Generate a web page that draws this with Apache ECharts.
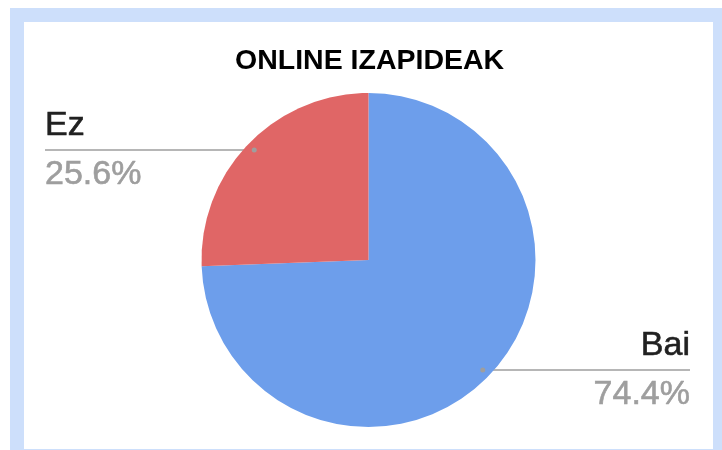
<!DOCTYPE html>
<html>
<head>
<meta charset="utf-8">
<script src="https://cdn.jsdelivr.net/npm/echarts@6/dist/echarts.min.js"></script>
<style>
  html, body { margin: 0; padding: 0; width: 722px; height: 450px; background: #ffffff; overflow: hidden; }
  #frame { position: absolute; left: 10px; top: 8px; width: 712px; height: 442px; background: #cddffb; }
  #inner { position: absolute; left: 24px; top: 22px; width: 689px; height: 427px; background: #ffffff; }
  #chart { position: absolute; left: 0; top: 0; width: 722px; height: 450px; }
</style>
</head>
<body>
<div id="frame"></div>
<div id="inner"></div>
<div id="chart"></div>
<script>
const titleText = 'ONLINE IZAPIDEAK';
const categories = ['Bai', 'Ez'];
const values = [74.4, 25.6];
const colors = ['#6d9eeb', '#e06666'];

const FONT = '"Liberation Sans", Arial, sans-serif';
const CX = 368.5, CY = 260, R = 167;
const LEFT_X = 45, RIGHT_X = 690;

const chart = echarts.init(document.getElementById('chart'), null, { renderer: 'canvas' });

function anchorFor(idx) {
  let lay = null;
  try {
    lay = chart.getModel().getSeriesByIndex(0).getData().getItemLayout(idx);
  } catch (e) { lay = null; }
  if (lay && lay.startAngle != null) {
    const mid = (lay.startAngle + lay.endAngle) / 2;
    return [lay.cx + 0.95 * lay.r * Math.cos(mid), lay.cy + 0.95 * lay.r * Math.sin(mid)];
  }
  const total = values.reduce((a, b) => a + b, 0);
  let acc = 0;
  for (let i = 0; i < idx; i++) acc += values[i];
  const midFrac = (acc + values[idx] / 2) / total;
  const ang = -Math.PI / 2 + midFrac * 2 * Math.PI;
  return [CX + 0.95 * R * Math.cos(ang), CY + 0.95 * R * Math.sin(ang)];
}

const data = categories.map((c, i) => ({ name: c, value: values[i], itemStyle: { color: colors[i] } }));

chart.setOption({
  animation: false,
  title: {
    text: titleText,
    left: 235,
    top: 47,
    padding: 0,
    textStyle: { fontFamily: FONT, fontSize: 28.5, lineHeight: 28, fontWeight: 'bold', color: '#000000' }
  },
  series: [{
    type: 'pie',
    center: [CX, CY],
    radius: R,
    startAngle: 90,
    clockwise: true,
    data: data,
    itemStyle: { borderWidth: 0 },
    emphasis: { disabled: true },
    label: {
      show: true,
      position: 'outside',
      formatter: p => '{n|' + p.name + '}\n{p|' + p.value.toFixed(1) + '%}',
      rich: {
        n: { fontFamily: FONT, fontSize: 34, color: '#212121', lineHeight: 49, textBorderColor: '#212121', textBorderWidth: 0.6 },
        p: { fontFamily: FONT, fontSize: 34, color: '#9e9e9e', lineHeight: 49, textBorderColor: '#9e9e9e', textBorderWidth: 0.6 }
      }
    },
    labelLine: { show: true, smooth: false, lineStyle: { color: '#9e9e9e', width: 1.5 } },
    labelLayout: function (params) {
      const a = anchorFor(params.dataIndex);
      const isLeft = a[0] < CX;
      const endX = isLeft ? LEFT_X : RIGHT_X;
      return {
        x: endX,
        y: a[1],
        align: isLeft ? 'left' : 'right',
        verticalAlign: 'middle',
        labelLinePoints: [[a[0], a[1]], [a[0], a[1]], [endX, a[1]]]
      };
    }
  }]
});

const dots = categories.map((c, i) => {
  const a = anchorFor(i);
  return { type: 'circle', shape: { cx: a[0], cy: a[1], r: 2.5 }, style: { fill: '#9e9e9e' }, z: 100 };
});
chart.setOption({ graphic: dots });
</script>
</body>
</html>
